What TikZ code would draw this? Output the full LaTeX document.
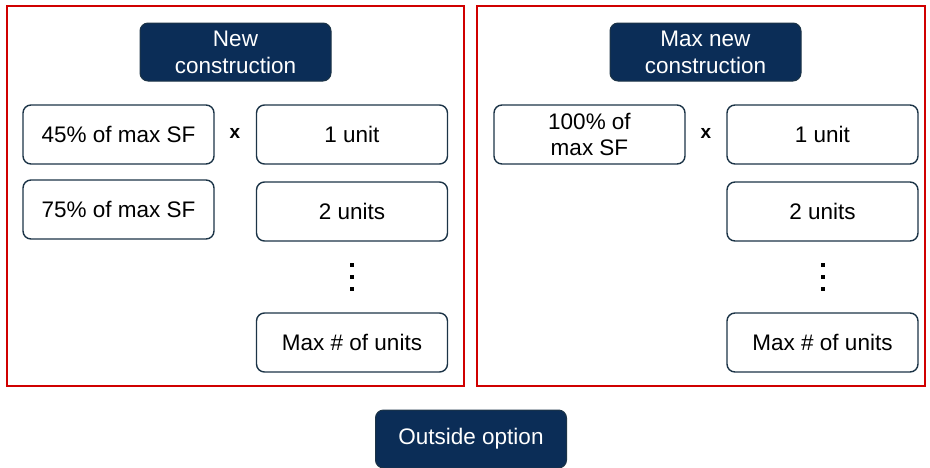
\documentclass[tikz,border=0pt]{standalone}
\usepackage{fontspec}
\setmainfont{Liberation Sans}
\definecolor{navy}{HTML}{0B2D57}
\definecolor{edgec}{HTML}{1C3447}
\definecolor{framered}{HTML}{D00000}
\begin{document}
\begin{tikzpicture}[x=1pt,y=-1pt,
  frame/.style={draw=framered,line width=1.4pt},
  header/.style={draw=edgec,fill=navy,rounded corners=8pt,line width=1pt,text=white,
    minimum width=191pt,minimum height=58pt,align=center,font=\fontsize{22.5}{27}\selectfont,inner sep=0pt},
  optbox/.style={draw=edgec,fill=white,rounded corners=8pt,line width=1.4pt,
    minimum width=191pt,minimum height=59pt,align=center,font=\fontsize{22.5}{26}\selectfont,inner sep=0pt},
  times/.style={font=\bfseries\fontsize{19}{19}\selectfont,inner sep=0pt},
  dot/.style={fill=black,rectangle,minimum size=4pt,inner sep=0pt}]
\useasboundingbox (0,0) rectangle (930,467);
\node[frame,rectangle,minimum width=457pt,minimum height=380pt,inner sep=0pt] (fl) at (235.5,196) {};
\node[frame,rectangle,minimum width=448pt,minimum height=380pt,inner sep=0pt] (fr) at (701,196) {};
% left panel
\node[header] (hl) at (235.5,52) {New\\construction};
\node[optbox] (p45) at (118.5,134.5) {45\% of max SF};
\node[optbox] (p75) at (118.5,209.5) {75\% of max SF};
\node[times] (xl) at (235,133) {x};
\node[optbox] (u1l) at (352,134.5) {1 unit};
\node[optbox] (u2l) at (352,211.5) {2 units};
\node[dot] (dl1) at (352,265) {};
\node[dot] (dl2) at (352,277) {};
\node[dot] (dl3) at (352,289) {};
\node[optbox] (uml) at (352,342.5) {Max \# of units};
% right panel
\node[header] (hr) at (705.5,52) {Max new\\construction};
\node[optbox] (p100) at (589.5,134.5) {100\% of\\max SF};
\node[times] (xr) at (706,133) {x};
\node[optbox] (u1r) at (822.5,134.5) {1 unit};
\node[optbox] (u2r) at (822.5,211.5) {2 units};
\node[dot] (dr1) at (822.5,265) {};
\node[dot] (dr2) at (822.5,277) {};
\node[dot] (dr3) at (822.5,289) {};
\node[optbox] (umr) at (822.5,342.5) {Max \# of units};
% outside
\node[header,minimum height=58pt] (out) at (471,439) {Outside option};
\end{tikzpicture}
\end{document}
